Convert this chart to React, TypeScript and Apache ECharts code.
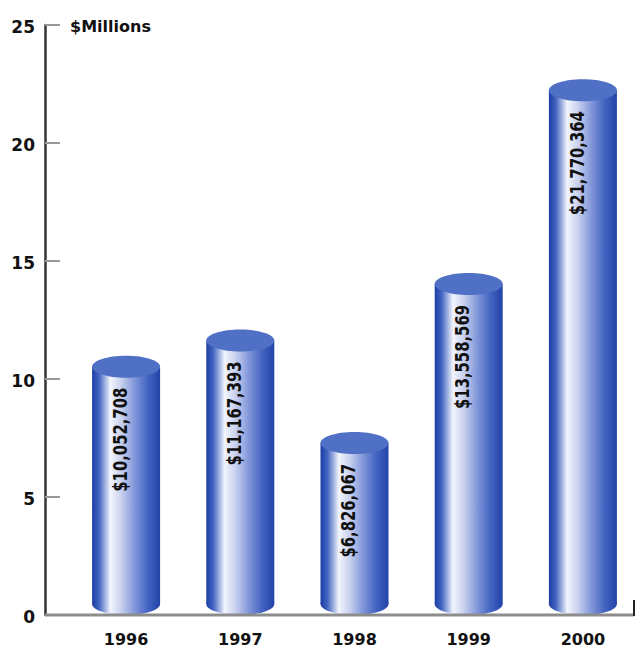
import React, { useEffect, useRef } from "react";
import * as echarts from "echarts";

const years = ["1996", "1997", "1998", "1999", "2000"];
const dollars = [10052708, 11167393, 6826067, 13558569, 21770364];
const valuesMillions = dollars.map((d) => d / 1e6);
const barLabels = dollars.map((d) => "$" + d.toLocaleString("en-US"));
const yTicks = { min: 0, max: 25, interval: 5 };

const FONT = '"DejaVu Sans", "Liberation Sans", sans-serif';

export default function App() {
  const ref = useRef<HTMLDivElement>(null);
  useEffect(() => {
    document.body.style.margin = "0";
    if (!ref.current) return;
    const chart = echarts.init(ref.current, null, { renderer: "svg" });
    const gridLeft = 69;
    const option: any = {
      animation: false,
      backgroundColor: "#ffffff",
      title: {
        text: "$Millions",
        left: 65,
        top: 13,
        textStyle: { fontFamily: FONT, fontWeight: "bold", fontSize: 16, color: "#111" },
      },
      grid: { left: gridLeft, right: -10, top: 25, bottom: 39 },
      xAxis: {
        type: "category",
        data: years,
        axisLine: { show: false },
        axisTick: { show: false },
        axisLabel: {
          margin: 16,
          fontFamily: FONT,
          fontWeight: "bold",
          fontSize: 16,
          color: "#111",
        },
      },
      yAxis: {
        type: "value",
        min: yTicks.min,
        max: yTicks.max,
        interval: yTicks.interval,
        offset: gridLeft - 45,
        splitLine: { show: false },
        axisLine: { show: true, lineStyle: { color: "#333", width: 2.5 } },
        axisTick: { show: true, inside: true, length: 15, lineStyle: { color: "#999", width: 2 } },
        axisLabel: {
          margin: 10,
          fontFamily: FONT,
          fontWeight: "bold",
          fontSize: 17,
          color: "#111",
          verticalAlign: "top",
          padding: [-7, 0, 0, 0],
        },
      },
      graphic: [
        {
          type: "line",
          z: 100,
          shape: { x1: 45, y1: 615, x2: 634, y2: 615 },
          style: { stroke: "#8c8c8c", lineWidth: 3 },
        },
        {
          type: "line",
          z: 100,
          shape: { x1: 634, y1: 600, x2: 634, y2: 616 },
          style: { stroke: "#222", lineWidth: 2 },
        },
      ],
      series: [
        {
          type: "custom",
          clip: false,
          data: valuesMillions.map((v, i) => [i, v]),
          encode: { x: 0, y: 1 },
          renderItem: (params: any, api: any) => {
            const idx = api.value(0);
            const v = api.value(1);
            const top = api.coord([idx, v]);
            const base = api.coord([idx, 0]);
            const w = 68;
            const ry = 11;
            const cx = top[0];
            const grad = () =>
              new echarts.graphic.LinearGradient(0, 0, 1, 0, [
                { offset: 0, color: "#1c3da4" },
                { offset: 0.1, color: "#4163c0" },
                { offset: 0.27, color: "#f2f5fc" },
                { offset: 0.42, color: "#cbd3ef" },
                { offset: 0.62, color: "#8398da" },
                { offset: 0.82, color: "#4464c2" },
                { offset: 1, color: "#2243a8" },
              ]);
            return {
              type: "group",
              children: [
                {
                  type: "rect",
                  shape: { x: cx - w / 2, y: top[1] - ry, width: w, height: base[1] - top[1] },
                  style: { fill: grad() },
                },
                {
                  type: "ellipse",
                  shape: { cx, cy: base[1] - ry, rx: w / 2, ry },
                  style: { fill: grad() },
                },
                {
                  type: "ellipse",
                  shape: { cx, cy: top[1] - ry, rx: w / 2, ry },
                  style: { fill: "#4f70c4" },
                },
                {
                  type: "text",
                  x: cx - 6,
                  y: top[1] + 10,
                  rotation: Math.PI / 2,
                  scaleX: 0.78,
                  style: {
                    text: barLabels[params.dataIndex],
                    align: "right",
                    verticalAlign: "middle",
                    fill: "#111",
                    fontFamily: FONT,
                    fontWeight: "bold",
                    fontSize: 19,
                  },
                },
              ],
            };
          },
        },
      ],
    };
    chart.setOption(option);
    return () => chart.dispose();
  }, []);
  return <div ref={ref} style={{ width: 640, height: 654 }} />;
}
